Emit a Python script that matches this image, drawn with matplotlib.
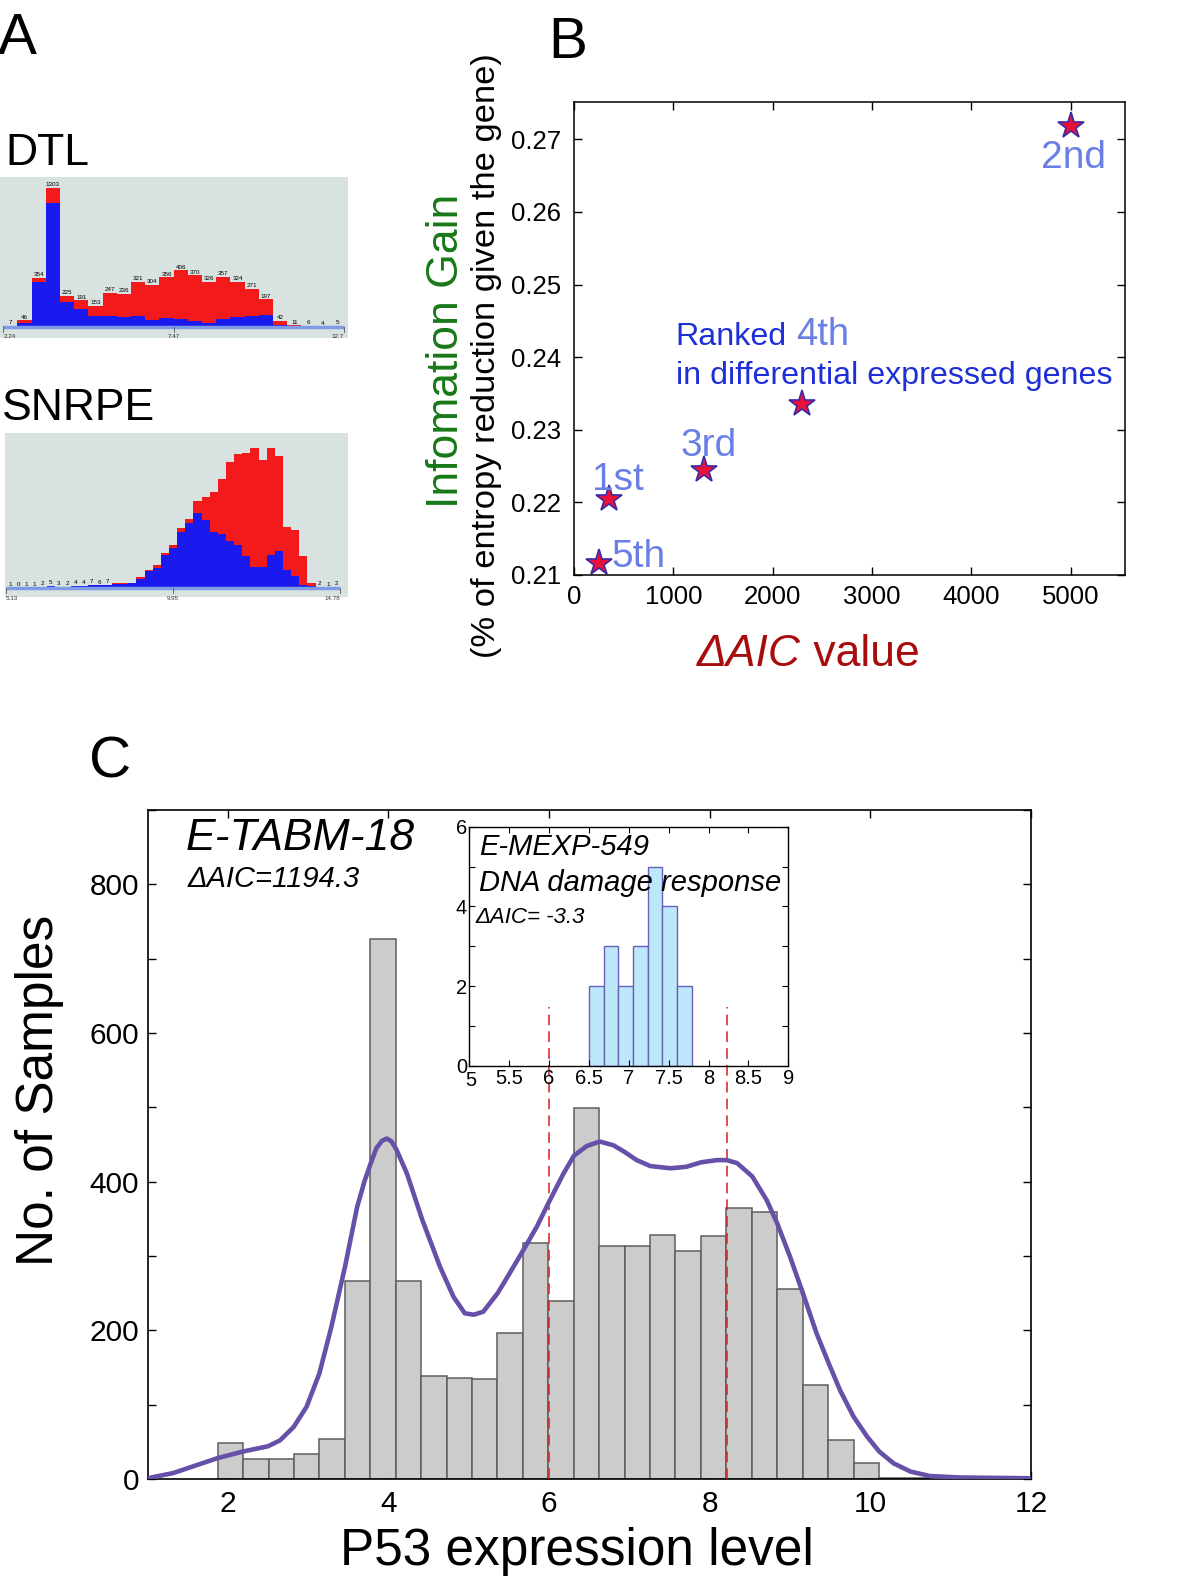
import numpy as np
import matplotlib
matplotlib.use('Agg')
import matplotlib.pyplot as plt
from matplotlib.ticker import MultipleLocator
from matplotlib.transforms import ScaledTranslation

plt.rcParams['font.family'] = ['Liberation Sans', 'DejaVu Sans']

# ---------------- data ----------------
# panel A, DTL histogram (counts per bin, blue part of each bin)
dtl_totals = [7, 46, 354, 1303, 225, 191, 153, 247, 236, 321, 304, 356,
              406, 370, 326, 357, 324, 271, 197, 42, 11, 6, 4, 5]
dtl_blue = [7, 30, 325, 894, 181, 125, 80, 80, 72, 80, 48, 67,
            60, 39, 29, 60, 72, 80, 87, 14, 8, 6, 4, 5]
dtl_range = (2.24, 12.7)
dtl_ticklabels = ['2.24', '7.47', '12.7']

# panel A, SNRPE histogram
snrpe_totals = [1, 0, 1, 1, 2, 5, 3, 2, 4, 4, 7, 6, 7, 11, 12, 12, 23, 38, 50, 76,
                93, 129, 149, 186, 195, 207, 234, 270, 287, 290, 301, 275, 300, 284,
                131, 124, 69, 11, 2, 1, 2]
snrpe_blue = [1, 0, 1, 1, 2, 5, 3, 2, 4, 4, 7, 6, 7, 9, 9, 10, 19, 36, 44, 71,
              86, 120, 139, 162, 146, 121, 116, 101, 93, 69, 46, 46, 71, 79,
              39, 26, 7, 4, 0, 0, 0]
snrpe_range = (5.13, 14.78)
snrpe_ticklabels = ['5.13', '9.95', '14.78']

# panel B
b_aic = [350, 5000, 1310, 2292, 250]
b_gain = [0.2204, 0.2719, 0.2244, 0.2336, 0.2116]
b_rank = ['1st', '2nd', '3rd', '4th', '5th']

# panel C, main histogram (E-TABM-18)
c_range = (1.874, 10.74)
c_counts = [49, 27, 27, 33, 54, 266, 727, 267, 138, 136, 134, 197, 317, 239,
            499, 314, 313, 328, 307, 327, 365, 359, 255, 127, 53, 21, 2, 1]
# fitted density curve (in count units)
curve_x = [1.0, 1.32, 1.87, 2.19, 2.50, 2.65, 2.82, 2.98, 3.14, 3.29, 3.46, 3.61,
           3.70, 3.78, 3.85, 3.92, 3.98, 4.04, 4.10, 4.23, 4.42, 4.64, 4.81, 4.95,
           5.06, 5.18, 5.36, 5.51, 5.68, 5.85, 6.00, 6.18, 6.31, 6.47, 6.63, 6.80,
           6.94, 7.09, 7.26, 7.51, 7.71, 7.89, 8.09, 8.21, 8.34, 8.53, 8.71, 8.84,
           9.00, 9.16, 9.33, 9.48, 9.62, 9.79, 9.96, 10.11, 10.29, 10.50, 10.74,
           11.12, 12.0]
curve_y = [1, 8, 28, 37, 44, 52, 70, 97, 142, 205, 286, 366, 400, 425, 445, 455,
           458, 454, 443, 411, 349, 286, 245, 223, 221, 225, 250, 277, 308, 340,
           373, 411, 435, 448, 454, 449, 440, 429, 421, 418, 420, 426, 429, 429,
           425, 407, 375, 344, 299, 250, 196, 156, 120, 84, 57, 37, 21, 10, 4, 2, 1]
cut_x = [6.0, 8.21]
cut_top = 635

# inset (E-MEXP-549)
in_range = (6.5, 7.787)
in_counts = [2, 3, 2, 3, 5, 4, 2]

RED = '#f21a1a'
BLUE = '#1a1aee'
LIGHT = '#6a7fe6'
DARK = '#1f2fd8'

W, H = 1200, 1582
fig = plt.figure(figsize=(W / 100, H / 100), dpi=100)


def box(x0, y0, x1, y1):
    # pixel box (top-left origin) -> figure fraction rect
    return [x0 / W, 1 - y1 / H, (x1 - x0) / W, (y1 - y0) / H]


def ftext(px, py, s, **kw):
    fig.text(px / W, 1 - py / H, s, **kw)


def stacked_hist(ax, totals, blue, rng, cap, ylim, ticklabels, label_all):
    totals = np.array(totals)
    blue = np.array(blue)
    edges = np.linspace(rng[0], rng[1], len(totals) + 1)
    width = edges[1] - edges[0]
    shown = np.minimum(totals, cap)
    ax.set_facecolor('#d8e2e0')
    ax.bar(edges[:-1], shown, width, align='edge', color=RED, lw=0)
    ax.bar(edges[:-1], blue, width, align='edge', color=BLUE, lw=0)
    ax.plot(rng, [0, 0], color='#7f9be8', lw=2.5, solid_capstyle='butt')
    span = ylim[1] - ylim[0]
    for x in [rng[0], (rng[0] + rng[1]) / 2, rng[1]]:
        ax.plot([x, x], [0, -0.03 * span], color='#555555', lw=0.6)
    for x, s, ha in zip([rng[0], (rng[0] + rng[1]) / 2, rng[1]], ticklabels,
                        ['left', 'center', 'right']):
        ax.text(x, -0.045 * span, s, fontsize=4.5, ha=ha, va='top', color='#333333')
    for i, t in enumerate(totals):
        if label_all or t < 10:
            ax.text((edges[i] + edges[i + 1]) / 2, shown[i] + 0.005 * span, str(t),
                    fontsize=4.5, ha='center', va='bottom')
    ax.set_ylim(*ylim)
    ax.set_xticks([])
    ax.set_yticks([])
    for sp in ax.spines.values():
        sp.set_visible(False)


# ---------------- panel A ----------------
ax_dtl = fig.add_axes(box(0, 176.7, 348, 338))
stacked_hist(ax_dtl, dtl_totals, dtl_blue, dtl_range, 1000, (-80, 1080),
             dtl_ticklabels, True)
ax_dtl.set_xlim(2.14, 12.82)

ax_sn = fig.add_axes(box(5, 433.3, 348, 597))
stacked_hist(ax_sn, snrpe_totals, snrpe_blue, snrpe_range, 1e9, (-19, 332),
             snrpe_ticklabels, False)
ax_sn.set_xlim(5.10, 15.01)

ftext(-2, 54, 'A', fontsize=42, va='baseline')
ftext(5, 165, 'DTL', fontsize=32, va='baseline')
ftext(2, 420, 'SNRPE', fontsize=32, va='baseline')

# ---------------- panel B ----------------
ax_b = fig.add_axes(box(574, 102.3, 1125, 575))
ax_b.plot(b_aic, b_gain, '*', ms=20, mfc='#ea1038', mec='#3a2aa8', mew=1.2)
ax_b.set_xlim(0, 5545)
ax_b.set_ylim(0.21, 0.2751)
ax_b.set_xticks(np.arange(0, 5001, 1000))
ax_b.set_yticks(np.arange(0.21, 0.2705, 0.01))
ax_b.set_yticklabels(['%.2f' % v for v in np.arange(0.21, 0.2705, 0.01)])
ax_b.tick_params(direction='in', top=True, right=True, length=6, width=1,
                 labelsize=18.5)
ax_b.tick_params(axis='y', pad=9)
ax_b.tick_params(axis='x', pad=7)
for sp in ax_b.spines.values():
    sp.set_linewidth(1.1)

offsets = {'1st': (-12.4, 6.5), '2nd': (-21.8, -30.5), '3rd': (-16.7, 10.2),
           '5th': (9.4, -2.9)}
for x, y, r in zip(b_aic, b_gain, b_rank):
    if r in offsets:
        ax_b.annotate(r, (x, y), xytext=offsets[r], textcoords='offset points',
                      fontsize=28, color=LIGHT, ha='left', va='baseline')
    else:
        ax_b.annotate('Ranked', (x, y), xytext=(-90.8, 42.1), textcoords='offset points',
                      fontsize=23.2, color=DARK, ha='left', va='baseline')
        ax_b.annotate(r, (x, y), xytext=(-4.4, 42.1), textcoords='offset points',
                      fontsize=27.5, color=LIGHT, ha='left', va='baseline')
        ax_b.annotate('in differential expressed genes', (x, y), xytext=(-90.8, 13.8),
                      textcoords='offset points', fontsize=23.2, color=DARK,
                      ha='left', va='baseline')

ftext(548, 58, 'B', fontsize=42, va='baseline')
ftext(446, 351, 'Infomation Gain', fontsize=32, color='#187818', rotation=90,
      ha='center', va='center')
ftext(487, 356, '(% of entropy reduction given the gene)', fontsize=24.8,
      rotation=90, ha='center', va='center')
ftext(801, 666, 'ΔAIC', fontsize=32, color='#a80c0c', style='italic',
      ha='right', va='baseline')
ftext(801, 666, ' value', fontsize=32, color='#a80c0c', ha='left', va='baseline')

# ---------------- panel C ----------------
ax_c = fig.add_axes(box(147.5, 810, 1031, 1479))
c_edges = np.linspace(c_range[0], c_range[1], len(c_counts) + 1)
ax_c.bar(c_edges[:-1], c_counts, np.diff(c_edges), align='edge', color='#cccccc',
         edgecolor='#5e5e5e', lw=1.1, zorder=2)
ax_c.plot(curve_x, curve_y, color='#6650a8', lw=3.3, zorder=4,
          solid_joinstyle='round', solid_capstyle='round')
ax_c.vlines(cut_x, 0, cut_top, colors='#d42020', linestyles=(0, (7, 4)), lw=1.1,
            zorder=3)
ax_c.set_xlim(1, 12)
ax_c.set_ylim(0, 900)
ax_c.set_xticks(np.arange(2, 13, 2))
ax_c.yaxis.set_major_locator(MultipleLocator(200))
ax_c.yaxis.set_minor_locator(MultipleLocator(100))
ax_c.tick_params(which='both', direction='in', top=True, right=True, length=6,
                 width=1, labelsize=21.5)
ax_c.tick_params(axis='x', pad=8)
ax_c.tick_params(axis='y', pad=6)
for sp in ax_c.spines.values():
    sp.set_linewidth(1.2)

ax_c.text(0.043, 0.94, 'E-TABM-18', transform=ax_c.transAxes, fontsize=32,
          style='italic', va='baseline')
ax_c.text(0.045, 0.885, 'ΔAIC=1194.3', transform=ax_c.transAxes, fontsize=21,
          style='italic', va='baseline')

ftext(89, 777, 'C', fontsize=42, va='baseline')
ftext(40, 1090, 'No. of Samples', fontsize=37, rotation=90, ha='center', va='center')
ftext(577, 1565, 'P53 expression level', fontsize=37, ha='center', va='baseline')

# ---------------- inset ----------------
ax_in = fig.add_axes(box(469.3, 826.7, 788.3, 1065.7))
ax_in.patch.set_alpha(0)
in_edges = np.linspace(in_range[0], in_range[1], len(in_counts) + 1)
ax_in.bar(in_edges[:-1], in_counts, np.diff(in_edges), align='edge',
          color='#bde8fb', edgecolor='#6a5fb5', lw=1)
ax_in.set_xlim(5, 9)
ax_in.set_ylim(0, 6)
ax_in.set_xticks(np.arange(5, 9.01, 0.5))
ax_in.set_xticklabels(['5', '5.5', '6', '6.5', '7', '7.5', '8', '8.5', '9'])
ax_in.yaxis.set_major_locator(MultipleLocator(2))
ax_in.yaxis.set_minor_locator(MultipleLocator(1))
ax_in.tick_params(which='both', direction='in', top=True, right=True, length=4,
                  width=0.8, labelsize=14.5)
ax_in.tick_params(axis='x', pad=2.5)
ax_in.tick_params(axis='y', pad=1.5)
for sp in ax_in.spines.values():
    sp.set_linewidth(1.0)
ax_in.text(0.03, 0.88, 'E-MEXP-549', transform=ax_in.transAxes, fontsize=21,
           style='italic', va='baseline')
ax_in.text(0.03, 0.73, 'DNA damage response', transform=ax_in.transAxes,
           fontsize=21, style='italic', va='baseline')
ax_in.text(0.02, 0.595, 'ΔAIC= -3.3', transform=ax_in.transAxes, fontsize=16,
           style='italic', va='baseline')

# nudge the corner labels ("0" up, "5" right/down) so they do not collide
fig.canvas.draw()
lab0 = ax_in.get_yticklabels()[0]
lab0.set_transform(lab0.get_transform() + ScaledTranslation(-1 / 100, 5 / 100, fig.dpi_scale_trans))
lab5 = ax_in.get_xticklabels()[0]
lab5.set_transform(lab5.get_transform() + ScaledTranslation(2 / 100, -2 / 100, fig.dpi_scale_trans))

fig.savefig('out.png', dpi=100)
